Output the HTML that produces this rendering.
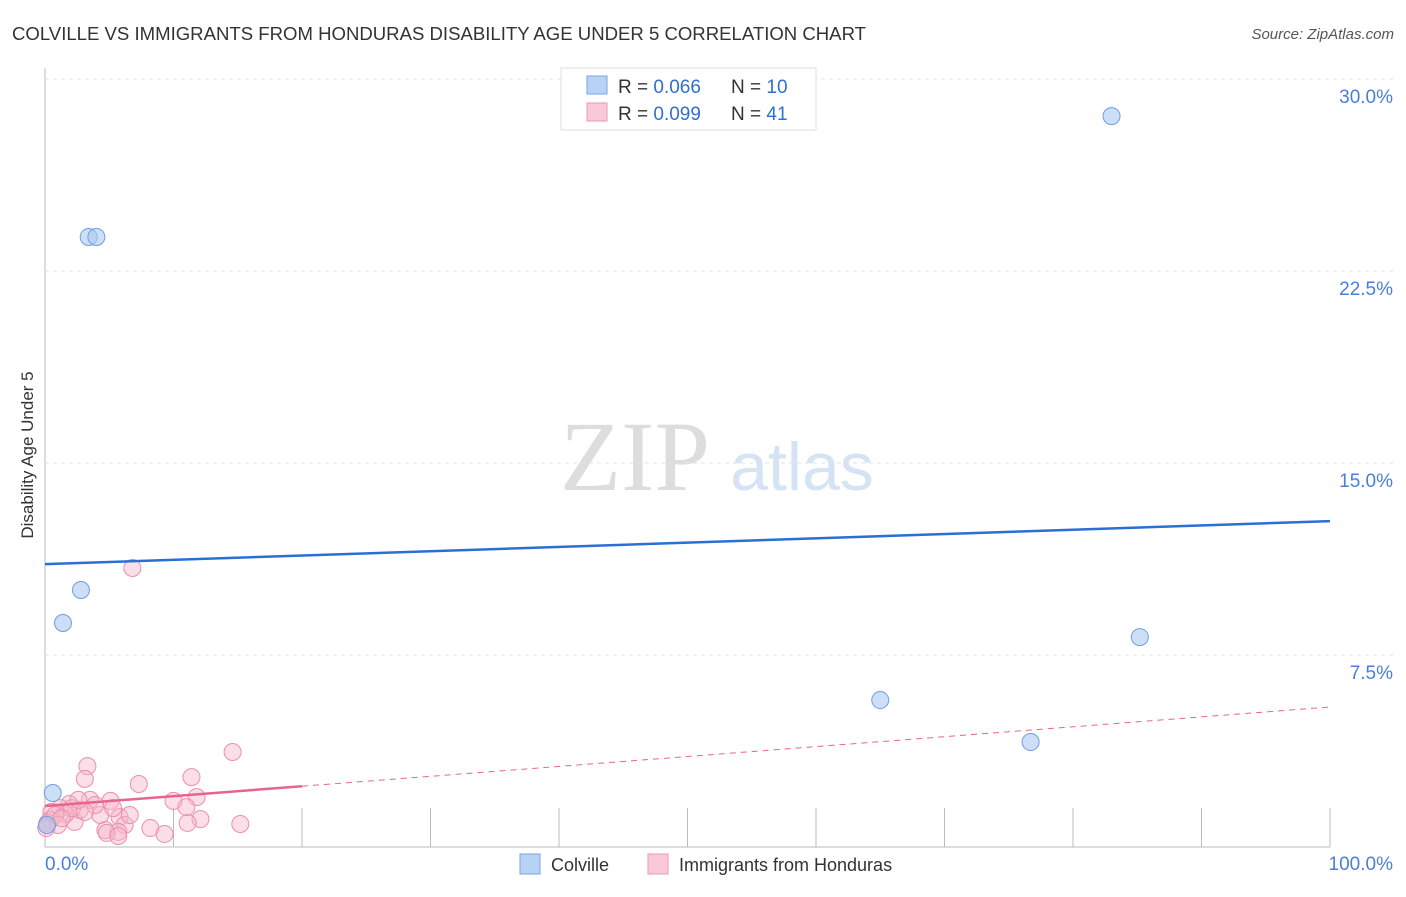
<!DOCTYPE html>
<html><head><meta charset="utf-8"><style>
body{margin:0;background:#fff;font-family:"Liberation Sans",sans-serif}
</style></head><body>
<svg id="c" width="1406" height="892" font-family="Liberation Sans, sans-serif">
<text x="12" y="40" font-size="18" fill="#333" textLength="854" lengthAdjust="spacingAndGlyphs">COLVILLE VS IMMIGRANTS FROM HONDURAS DISABILITY AGE UNDER 5 CORRELATION CHART</text>
<text x="1394" y="39" font-size="15" fill="#555" text-anchor="end" font-style="italic">Source: ZipAtlas.com</text>
<text x="33" y="455" font-size="17" fill="#333" text-anchor="middle" transform="rotate(-90 33 455)">Disability Age Under 5</text>
<text x="635" y="490" font-size="100" fill="#ddd" text-anchor="middle" style="font-family:'Liberation Serif',serif">ZIP</text>
<text x="802" y="490" font-size="68" fill="#d6e3f5" text-anchor="middle">atlas</text>
<g id="grid"></g><g id="marks"></g>
<g>
<rect x="561" y="68" width="255" height="62" fill="#fff" stroke="#ddd"/>
<rect x="587" y="76" width="20" height="18" fill="#b8d2f5" stroke="#7aa6e0"/>
<text x="618" y="93" font-size="19" fill="#333">R = <tspan fill="#2f6fd0">0.066</tspan></text>
<text x="731" y="93" font-size="19" fill="#333">N = <tspan fill="#2f6fd0">10</tspan></text>
<rect x="587" y="103" width="20" height="18" fill="#f9c9d8" stroke="#ee97b2"/>
<text x="618" y="120" font-size="19" fill="#333">R = <tspan fill="#2f6fd0">0.099</tspan></text>
<text x="731" y="120" font-size="19" fill="#333">N = <tspan fill="#2f6fd0">41</tspan></text>
</g>
<g>
<rect x="520" y="854" width="20" height="20" fill="#b8d2f5" stroke="#7aa6e0"/>
<text x="551" y="871" font-size="18" fill="#333">Colville</text>
<rect x="648" y="854" width="20" height="20" fill="#f9c9d8" stroke="#ee97b2"/>
<text x="679" y="871" font-size="18" fill="#333">Immigrants from Honduras</text>
</g>
</svg>
<script>
const yTicks=[7.5,15,22.5,30];
const yTickLabels=["7.5%","15.0%","22.5%","30.0%"];
const xTickLabels=["0.0%","100.0%"];
const blueX=[3.4,4.0,2.8,1.4,0.6,0.15,83.0,85.2,65.0,76.7];
const blueY=[23.83,23.83,10.04,8.75,2.11,0.86,28.55,8.2,5.74,4.1];
const pinkX=[6.8,14.6,11.4,7.3,3.3,3.1,11.8,10.0,5.1,3.5,1.9,1.2,0.5,0.4,0.2,2.3,4.3,5.8,6.2,12.1,11.1,15.2,8.2,9.3,5.7,4.7,2.7,3.9,1.6,0.8,2.1,3.1,6.6,5.3,4.8,11.0,1.0,0.1,1.3,2.6,5.7];
const pinkY=[10.9,3.71,2.73,2.46,3.16,2.66,1.95,1.80,1.80,1.84,1.68,1.52,1.37,1.05,0.94,0.98,1.25,1.17,0.86,1.09,0.94,0.90,0.74,0.51,0.59,0.66,1.45,1.64,1.29,1.25,1.52,1.37,1.25,1.52,0.55,1.56,0.86,0.74,1.13,1.84,0.43];
const blueLine=[11.05,12.73];
const pinkLine=[1.6,5.47];
const pinkSolidEnd=20;
const X=v=>45+v*12.85, Y=v=>847-v*25.6;
const NS="http://www.w3.org/2000/svg";
const g=document.getElementById('grid'), m=document.getElementById('marks');
function mk(p,tag,a){const e=document.createElementNS(NS,tag);for(const k in a)e.setAttribute(k,a[k]);p.appendChild(e);return e;}
let ax=mk(g,'line',{x1:45,y1:68,x2:45,y2:847,stroke:'#bbb'});


let bx=mk(g,'line',{x1:45,y1:847,x2:1330,y2:847,stroke:'#bbb'});


yTicks.forEach((t,i)=>{
 let l=mk(g,'line',{x1:45,x2:1394,y1:Y(t),y2:Y(t),stroke:'#e2e2e2','stroke-dasharray':'4,4'});
 
 
 let tx=mk(g,'text',{x:1393,y:Y(t)+24,'font-size':19,fill:'#4a7fd6','text-anchor':'end'});tx.textContent=yTickLabels[i];
 
 
});
for(let k=1;k<=10;k++){let l=mk(g,'line',{x1:X(k*10),x2:X(k*10),y1:808,y2:847,stroke:'#bbb'});
 
 }
let t0=mk(g,'text',{x:45,y:870,'font-size':19,fill:'#4a7fd6'});t0.textContent=xTickLabels[0];


let t1=mk(g,'text',{x:1393,y:870,'font-size':19,fill:'#4a7fd6','text-anchor':'end'});t1.textContent=xTickLabels[1];


pinkX.forEach((x,i)=>{let c=mk(m,'circle',{cx:X(x),cy:Y(pinkY[i]),r:8.5,fill:'rgba(247,182,202,0.45)',stroke:'#eb8fae','stroke-width':1});
 
 });
blueX.forEach((x,i)=>{let c=mk(m,'circle',{cx:X(x),cy:Y(blueY[i]),r:8.5,fill:'rgba(172,202,240,0.6)',stroke:'#6d9fe0','stroke-width':1});
 
 });
let bl=mk(m,'line',{x1:X(0),y1:Y(blueLine[0]),x2:X(100),y2:Y(blueLine[1]),stroke:'#2a6fd4','stroke-width':2.5});


const py=v=>pinkLine[0]+(pinkLine[1]-pinkLine[0])*v/100;
let ps=mk(m,'line',{x1:X(0),y1:Y(py(0)),x2:X(pinkSolidEnd),y2:Y(py(pinkSolidEnd)),stroke:'#e8648f','stroke-width':2.5});


let pd=mk(m,'line',{x1:X(pinkSolidEnd),y1:Y(py(pinkSolidEnd)),x2:X(100),y2:Y(py(100)),stroke:'#e8648f','stroke-width':1,'stroke-dasharray':'6,5'});


</script>
</body></html>
